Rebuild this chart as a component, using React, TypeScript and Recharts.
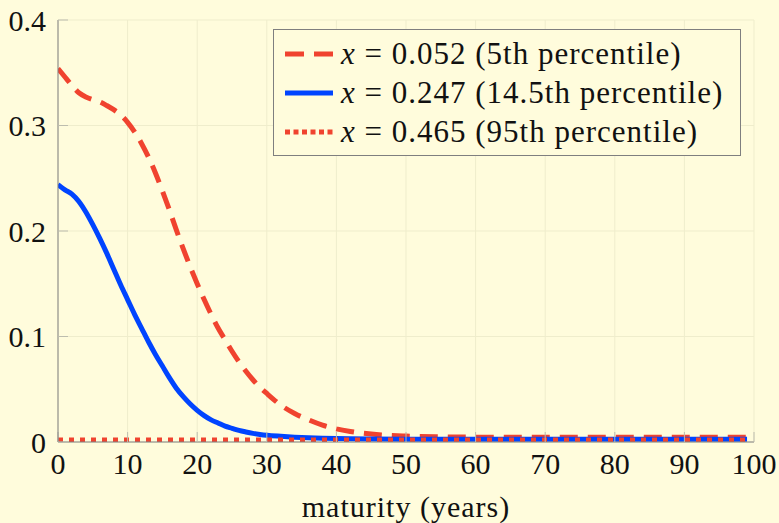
import { CartesianGrid, Legend, Line, LineChart, XAxis, YAxis } from "recharts"

const maturity = [
  0, 1, 2, 3, 4, 5, 6, 7, 8, 9, 10, 11, 12, 13, 14, 15, 16, 17, 18, 19, 20, 21, 22, 23, 24, 25, 26,
  27, 28, 29, 30, 32, 34, 36, 38, 40, 42, 45, 50, 55, 60, 70, 80, 90, 99,
]
// x = 0.052 (5th percentile)
const p5Values = [
  0.354, 0.346, 0.338, 0.331, 0.327, 0.3245, 0.3225, 0.319, 0.315, 0.31, 0.303, 0.294, 0.283, 0.27,
  0.255, 0.238, 0.22, 0.201, 0.183, 0.166, 0.15, 0.135, 0.121, 0.108, 0.097, 0.086, 0.076, 0.067,
  0.059, 0.052, 0.046, 0.035, 0.027, 0.021, 0.016, 0.0125, 0.01, 0.0075, 0.0056, 0.0049, 0.0046,
  0.0045, 0.0045, 0.0045, 0.0045,
]
// x = 0.247 (14.5th percentile)
const p145Values = [
  0.244, 0.239, 0.235, 0.228, 0.218, 0.206, 0.193, 0.179, 0.164, 0.149, 0.135, 0.121, 0.108, 0.095,
  0.083, 0.072, 0.061, 0.051, 0.043, 0.036, 0.03, 0.025, 0.021, 0.018, 0.015, 0.013, 0.011, 0.0095,
  0.0082, 0.0072, 0.0064, 0.0054, 0.0046, 0.004, 0.0036, 0.0033, 0.0031, 0.0029, 0.0027, 0.0026,
  0.0025, 0.0025, 0.0025, 0.0025, 0.0025,
]
// x = 0.465 (95th percentile)
const p95Maturity = [0, 99]
const p95Values = [0.002, 0.002]

const xTicks = [0, 10, 20, 30, 40, 50, 60, 70, 80, 90, 100]
const yTicks = [0, 0.1, 0.2, 0.3, 0.4]

const BG = "#fffcdc"
const RED = "#f0432f"
const BLUE = "#0044ff"
const FONT = "Liberation Serif"

const mainData = maturity.map((m, i) => ({ m, p5: p5Values[i], p145: p145Values[i] }))
const p95Data = p95Maturity.map((m, i) => ({ m, p95: p95Values[i] }))

const legendItems = [
  { value: "0.052", label: "5th percentile", color: RED, dash: "19 10" },
  { value: "0.247", label: "14.5th percentile", color: BLUE, dash: undefined },
  { value: "0.465", label: "95th percentile", color: RED, dash: "5 3.5" },
]

function LegendBox() {
  return (
    <div
      style={{
        width: 468,
        height: 127,
        border: "1px solid #7f7f7f",
        background: BG,
        fontFamily: FONT,
        fontSize: 31,
        letterSpacing: 1,
        color: "#111",
        paddingTop: 4,
        boxSizing: "border-box",
      }}
    >
      {legendItems.map((item) => (
        <div key={item.value} style={{ display: "flex", alignItems: "center", height: 39 }}>
          <svg width={59} height={10} style={{ flex: "none" }}>
            <line
              x1={11}
              y1={5}
              x2={59}
              y2={5}
              stroke={item.color}
              strokeWidth={5}
              strokeDasharray={item.dash}
            />
          </svg>
          <span style={{ marginLeft: 8, whiteSpace: "nowrap" }}>
            <i>x</i> = {item.value} ({item.label})
          </span>
        </div>
      ))}
    </div>
  )
}

export default function App() {
  const tickStyle = { fill: "#111", fontSize: 30, fontFamily: FONT }
  return (
    <div style={{ position: "absolute", left: 0, top: 0, width: 779, height: 523, background: BG }}>
      <LineChart width={779} height={523} margin={{ top: 20, right: 25, bottom: 0, left: 0 }}>
        <CartesianGrid stroke="#efedcc" strokeWidth={1} />
        <XAxis
          dataKey="m"
          type="number"
          domain={[0, 100]}
          ticks={xTicks}
          height={81}
          stroke="#808080"
          tick={tickStyle}
          tickSize={-10}
          tickMargin={21}
          tickLine={{ stroke: "#bdbdae" }}
          allowDataOverflow
          label={{
            value: "maturity (years)",
            position: "insideBottom",
            offset: 6,
            fill: "#111",
            fontSize: 30,
            fontFamily: FONT,
            letterSpacing: 1,
          }}
        />
        <XAxis
          xAxisId="top"
          orientation="top"
          dataKey="m"
          type="number"
          domain={[0, 100]}
          ticks={xTicks}
          height={0}
          stroke="#808080"
          tick={false}
          tickSize={-10}
          tickLine={{ stroke: "#bdbdae" }}
        />
        <YAxis
          type="number"
          domain={[0, 0.4]}
          ticks={yTicks}
          width={58}
          stroke="#808080"
          tick={tickStyle}
          tickSize={-10}
          tickMargin={22}
          tickLine={{ stroke: "#bdbdae" }}
          allowDataOverflow
        />
        <YAxis
          yAxisId="right"
          orientation="right"
          type="number"
          domain={[0, 0.4]}
          ticks={yTicks}
          width={0}
          stroke="#808080"
          tick={false}
          tickSize={-10}
          tickLine={{ stroke: "#bdbdae" }}
        />
        <Legend
          layout="vertical"
          align="center"
          verticalAlign="middle"
          wrapperStyle={{ left: 273, top: 29, width: 468, height: 127 }}
          content={() => <LegendBox />}
        />
        <Line
          data={mainData}
          dataKey="p5"
          type="monotone"
          stroke={RED}
          strokeWidth={5}
          strokeDasharray="18 10"
          dot={false}
          activeDot={false}
          isAnimationActive={false}
        />
        <Line
          data={mainData}
          dataKey="p145"
          type="monotone"
          stroke={BLUE}
          strokeWidth={5}
          dot={false}
          activeDot={false}
          isAnimationActive={false}
        />
        <Line
          data={p95Data}
          dataKey="p95"
          type="linear"
          stroke={RED}
          strokeWidth={5}
          strokeDasharray="5 6"
          dot={false}
          activeDot={false}
          isAnimationActive={false}
        />
      </LineChart>
    </div>
  )
}
